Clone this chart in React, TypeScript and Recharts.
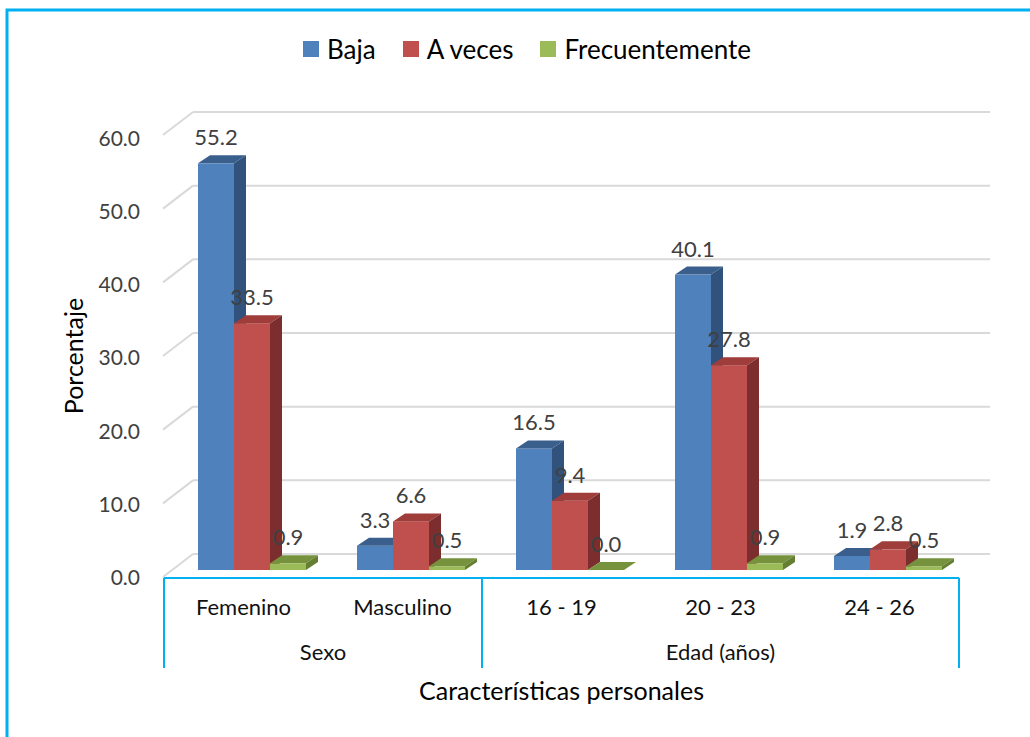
import React from 'react';
import { BarChart, Bar, XAxis, YAxis, CartesianGrid, Legend, LabelList, Customized } from 'recharts';

// ---------- data ----------
const categories = ['Femenino', 'Masculino', '16 - 19', '20 - 23', '24 - 26'];
const groupLabels = ['Sexo', 'Edad (años)'];
const groupSizes = [2, 3];
const baja = [55.2, 3.3, 16.5, 40.1, 1.9];
const aVeces = [33.5, 6.6, 9.4, 27.8, 2.8];
const frecuentemente = [0.9, 0.5, 0.0, 0.9, 0.5];
const yTicks = [0, 10, 20, 30, 40, 50, 60];
const yTitle = 'Porcentaje';
const xTitle = 'Características personales';

const data = categories.map((name, i) => ({
  name,
  baja: baja[i],
  aVeces: aVeces[i],
  frec: frecuentemente[i],
}));

const series = [
  { key: 'baja', name: 'Baja', front: '#4F81BD', top: '#3A5F8C', side: '#30527D' },
  { key: 'aVeces', name: 'A veces', front: '#C0504D', top: '#9E3D3A', side: '#7B2E2D' },
  { key: 'frec', name: 'Frecuentemente', front: '#9BBB59', top: '#76923C', side: '#647F31' },
];

// ---------- layout ----------
const W = 1030;
const H = 737;
const Y_AXIS_W = 60;
const X_AXIS_H = 30;
const MARGIN = { top: 128, right: 63, bottom: 137, left: 112 };
const PLOT_LEFT = MARGIN.left + Y_AXIS_W;
const PLOT_RIGHT = W - MARGIN.right;
const PLOT_BOTTOM = H - MARGIN.bottom - X_AXIS_H;
const FONT = 'Lato, "Open Sans", "DejaVu Sans", sans-serif';
const CYAN = '#00B0F0';
const GRID = '#D9D9D9';
const DX = 12; // bar depth offset x
const DY = 8; // bar depth offset y
const SHIFT = 8; // front-plane shift of the axis box/labels

const renderGridLine = (p: any) => {
  const { x1, x2, y1 } = p;
  return (
    <g key={p.key ?? `g-${y1}`}>
      <line x1={x1 - 9} y1={y1 + 7} x2={x1 + 21} y2={y1 - 16} stroke={GRID} strokeWidth={2} />
      <line x1={x1 + 21} y1={y1 - 16} x2={x2 + 23} y2={y1 - 16} stroke={GRID} strokeWidth={2} />
    </g>
  );
};

const make3DShape = (s: typeof series[number]) => (p: any) => {
  const { x, y, width, height } = p;
  if (x == null || y == null || !isFinite(x) || !isFinite(y)) return <g />;
  const w = width;
  const h = Math.max(height || 0, 0);
  return (
    <g>
      <rect x={x} y={y} width={w} height={h} fill={s.front} />
      <polygon
        points={`${x},${y} ${x + DX},${y - DY} ${x + w + DX},${y - DY} ${x + w},${y}`}
        fill={s.top}
      />
      <polygon
        points={`${x + w},${y} ${x + w + DX},${y - DY} ${x + w + DX},${y + h - DY} ${x + w},${y + h}`}
        fill={s.side}
      />
    </g>
  );
};

const renderValueLabel = (p: any) => {
  const vb = p.viewBox || {};
  const x = p.x ?? vb.x;
  const y = p.y ?? vb.y;
  const width = p.width ?? vb.width;
  if (x == null || y == null) return null;
  return (
    <text
      x={x + width / 2}
      y={y - 18}
      textAnchor="middle"
      fontSize={22}
      fontFamily={FONT}
      fill="#404040"
    >
      {Number(p.value).toFixed(1)}
    </text>
  );
};

const YTick = (p: any) => {
  const v = Number(p.payload.value);
  return (
    <text
      x={p.x - 32}
      y={p.y + 15 + (2.5 * v) / 60}
      textAnchor="end"
      fontSize={21}
      fontFamily={FONT}
      fill="#404040"
    >
      {v.toFixed(1)}
    </text>
  );
};

const XTick = (p: any) => (
  <text
    x={p.x - SHIFT}
    y={p.y + 45}
    textAnchor="middle"
    fontSize={22}
    fontFamily={FONT}
    fill="#111111"
  >
    {p.payload.value}
  </text>
);

const YTitle = (p: any) => {
  const vb = p.viewBox || { x: MARGIN.left, y: MARGIN.top, height: PLOT_BOTTOM - MARGIN.top };
  const cx = 83;
  const cy = vb.y + vb.height / 2 + 7;
  return (
    <text
      x={cx}
      y={cy}
      transform={`rotate(-90 ${cx} ${cy})`}
      textAnchor="middle"
      fontSize={25}
      fontFamily={FONT}
      fill="#000000"
    >
      {yTitle}
    </text>
  );
};

const Decor = () => {
  const band = (PLOT_RIGHT - PLOT_LEFT) / categories.length;
  const left = PLOT_LEFT - SHIFT;
  const right = PLOT_RIGHT - SHIFT;
  const top = PLOT_BOTTOM + 8;
  const bottom = PLOT_BOTTOM + 98;
  const bounds: number[] = [left];
  let acc = 0;
  groupSizes.forEach((n) => {
    acc += n;
    bounds.push(left + acc * band);
  });
  return (
    <g>
      <rect x={7} y={10} width={W + 20} height={H + 20} fill="none" stroke={CYAN} strokeWidth={3} />
      <line x1={left} y1={top} x2={right} y2={top} stroke={CYAN} strokeWidth={2} />
      {bounds.map((bx, i) => (
        <line key={`v${i}`} x1={bx} y1={top} x2={bx} y2={bottom} stroke={CYAN} strokeWidth={2} />
      ))}
      {groupLabels.map((g, i) => (
        <text
          key={g}
          x={(bounds[i] + bounds[i + 1]) / 2}
          y={PLOT_BOTTOM + 90}
          textAnchor="middle"
          fontSize={22}
          fontFamily={FONT}
          fill="#111111"
        >
          {g}
        </text>
      ))}
      <text
        x={(left + right) / 2}
        y={PLOT_BOTTOM + 130}
        textAnchor="middle"
        fontSize={25}
        fontFamily={FONT}
        fill="#000000"
      >
        {xTitle}
      </text>
    </g>
  );
};

const LegendContent = () => (
  <div
    style={{
      display: 'flex',
      alignItems: 'center',
      paddingLeft: 303,
      fontFamily: FONT,
      fontSize: 26,
      color: '#000',
      lineHeight: '30px',
      height: 30,
    }}
  >
    {series.map((s) => (
      <div key={s.key} style={{ display: 'flex', alignItems: 'center', marginRight: 27 }}>
        <span style={{ display: 'inline-block', width: 16, height: 16, background: s.front, marginRight: 8 }} />
        <span>{s.name}</span>
      </div>
    ))}
  </div>
);

export default function App() {
  return (
    <div style={{ position: 'absolute', left: 0, top: 0, width: W, height: H, background: '#fff' }}>
      <BarChart width={W} height={H} data={data} margin={MARGIN} barCategoryGap={26} barGap={0}>
        <CartesianGrid vertical={false} horizontal={renderGridLine} />
        <XAxis
          dataKey="name"
          height={X_AXIS_H}
          axisLine={false}
          tickLine={false}
          tickSize={0}
          tickMargin={0}
          tick={<XTick />}
          interval={0}
        />
        <YAxis
          width={Y_AXIS_W}
          domain={[0, 60]}
          ticks={yTicks}
          axisLine={false}
          tickLine={false}
          tickSize={0}
          tickMargin={0}
          tick={<YTick />}
          label={<YTitle />}
        />
        <Legend
          verticalAlign="middle"
          align="center"
          layout="horizontal"
          wrapperStyle={{ top: 34, left: 0, width: W }}
          content={<LegendContent />}
        />
        {series.map((s) => (
          <Bar
            key={s.key}
            dataKey={s.key}
            name={s.name}
            fill={s.front}
            isAnimationActive={false}
            shape={make3DShape(s)}
          >
            <LabelList dataKey={s.key} content={renderValueLabel} />
          </Bar>
        ))}
        <Customized component={<Decor />} />
      </BarChart>
    </div>
  );
}
